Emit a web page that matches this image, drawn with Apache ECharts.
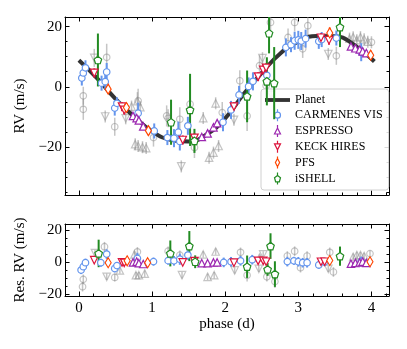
<!DOCTYPE html>
<html>
<head>
<meta charset="utf-8">
<script src="https://cdn.jsdelivr.net/npm/echarts@6/dist/echarts.min.js"></script>
<style>
html, body { margin: 0; padding: 0; background: #fff; }
#chart { width: 407px; height: 349px; }
</style>
</head>
<body>
<div id="chart"></div>
<script>
// planet model
var planetPhase = [0, 0.25, 0.5, 0.75, 1.0, 1.25, 1.5, 1.75, 2.0, 2.25, 2.5, 2.75, 3.0, 3.25, 3.5, 3.75, 4.04];
var planetRV = [8.8, 2.8, -4.0, -9.8, -14.8, -17.6, -18.2, -15.8, -10.5, -2.5, 4.6, 11.0, 15.0, 16.9, 16.8, 14.2, 8.4];

// [phase, value, err]
var carmenesTop = [[0.04,2.9,2.5],[0.06,4.6,2.5],[0.09,6.3,2.5],[0.31,1.2,2.5],[0.36,1.7,2.5],[0.38,4.9,3],
  [0.49,-7.1,2.5],[0.52,-5.5,2],[0.81,-8.8,3.5],[1.03,-14.7,2.5],[1.21,-16.9,2.5],[1.30,-17.1,3],
  [1.36,-15.1,3.5],[1.38,-18.2,3],[1.49,-13.0,3],[1.97,-11.8,3],[2.08,-7.7,3],[2.19,-2.7,3],
  [2.32,0.1,3],[2.38,1.8,3],[2.57,3.8,3],[2.83,13.1,3],[2.90,14.0,2.5],[2.95,15.3,3],
  [3.00,15.6,3],[3.04,15.2,3],[3.10,16.0,3],[3.28,15.1,2.5],[3.32,15.7,2.5],[3.52,16.2,2.5],[3.86,11.5,3]];
var carmenesRes = [[0.03,-4.8,2.5],[0.06,-2.7,2.5],[0.09,-0.2,2.5],[0.30,-0.2,2.5],[0.38,5.2,3],[0.49,-3.8,2.5],[0.52,-2.0,2],
  [0.80,2.5,3.5],[1.02,0.5,2.5],[1.22,1.1,2.5],[1.30,1.0,3],[1.38,2.0,3.5],[1.49,4.6,3],[1.98,0,3],
  [2.08,0.4,3],[2.21,1.0,3],[2.37,1.7,3],[2.85,0.5,3],[2.94,1.0,2.5],[3.00,0.4,3],[3.06,-0.2,3],
  [3.12,-0.2,3],[3.28,-1.6,2.5],[3.36,0.2,2.5],[3.86,0.6,3]];
var espressoTop = [[0.74,-9.7,1],[0.79,-10.4,1],[0.82,-11.2,1],[0.88,-13.2,1],[1.68,-16.7,1],[1.76,-15.5,1],[1.84,-13.5,1],
  [1.89,-12.1,1],[3.72,13.4,1],[3.78,12.8,1],[3.84,12.4,1],[3.88,11.8,1],[3.93,11.2,1]];
var espressoRes = [[0.74,0,1],[0.79,0.5,1],[0.82,-0.5,1],[0.88,-1,1],[1.68,-0.5,1],[1.76,-0.5,1],[1.84,0,1],
  [1.89,0,1],[3.72,-0.8,1],[3.78,-0.3,1],[3.84,0,1],[3.88,0.5,1],[3.93,-0.3,1]];
var keckTop = [[0.21,4.6,1.5],[0.59,-6.6,1.5],[0.62,-7.7,1.5],[1.42,-17.7,1.5],[1.58,-17.0,1.5],[2.12,-6.6,1.5],
  [2.45,3.4,1.5],[2.52,5.6,1.5],[2.56,6.3,1.5],[3.31,16.3,1.5],[3.42,15.5,1.5]];
var keckRes = [[0.21,1.4,1.5],[0.59,0,1.5],[0.62,-0.3,1.5],[1.42,0,1.5],[1.58,0.8,1.5],[2.12,-0.2,1.5],
  [2.45,1,1.5],[2.52,1,1.5],[2.56,0.4,1.5],[3.31,0.4,1.5],[3.36,0.4,1.5]];
var pfsTop = [[0.40,-0.8,1.5],[0.65,-6.9,1.5],[0.95,-14.6,1.5],[3.43,17.9,1.8],[3.99,10.5,1.5]];
var pfsRes = [[0.40,-0.2,1.5],[0.66,1,1.5],[0.94,-0.2,1.5],[3.43,1.2,1.8],[3.98,0.4,1.5]];
var ishellTop = [[0.26,8.9,8.8],[1.26,-11.8,7.5],[1.52,-7.7,12],[1.58,-18,4],[2.30,-3.2,8.6],[2.57,1.8,8],
  [2.60,17.8,6.7],[2.67,1.2,12],[3.57,19.8,6.6]];
var ishellRes = [[0.27,5.6,8.6],[1.25,5.6,8.1],[1.51,10.2,9.4],[1.59,0.4,4],[2.30,-2.7,7],[2.58,-4.4,4],
  [2.62,10.2,8],[2.68,-7.3,8],[3.57,3.9,6]];

// unbinned points in grey
var grayCircTop = [[0.06,-3,3],[0.06,-7.5,3.5],[0.38,9.8,4.5],[0.49,-13.3,3],[0.81,-4.7,4],[1.02,-16.9,3],[1.20,-9.7,3.5],
  [1.22,-10.5,3],[1.38,-10.8,4],[1.52,-5.8,4],[1.58,-20.2,3.5],[1.96,-8.6,3.5],[2.20,2.0,3.5],[2.30,-9.7,5],
  [2.47,7.0,3.5],[2.56,0.3,4],[2.62,21.4,4],[2.86,16.4,3],[2.95,21.4,3],[3.06,12.6,3],[3.13,20.3,3.5],
  [3.52,10.3,3],[4.00,14.8,2]];
var grayUpTop = [[0.72,-6.6,2],[0.80,-4.8,3],[0.84,-6.8,2],[0.77,-19.1,2],[0.81,-19.7,2],[0.87,-20.1,2],[0.92,-20.4,2],
  [1.70,-10.4,2],[1.87,-5.5,2],[1.78,-23.6,2],[1.84,-21.9,2],[1.91,-19.7,2],[3.70,16,2],[3.75,16.5,2],
  [3.80,15.5,2],[3.85,16.5,2],[3.90,15.8,2],[3.95,15,2]];
var grayDownTop = [[0.21,9.6,3],[0.36,-9.9,2],[0.64,-10.5,2],[1.40,-26.5,2],[2.12,-11,2],[2.51,9.5,2],[2.63,-2.7,2],[3.41,10.9,2]];
var grayCircRes = [[0.05,-15.2,3],[0.06,-10.6,3],[0.35,9.8,3],[0.49,-9.4,2.5],[0.80,6.6,3],[1.22,7.0,3],[1.38,4.5,3],
  [2.21,6.3,3],[2.30,-8.0,4],[2.57,-9.0,3],[2.68,-12.0,4],[2.85,4.0,3],[2.95,7.0,3],[3.03,-3.3,3],
  [3.12,4.0,3],[3.43,6.3,3],[3.48,-6.0,3],[3.98,5.5,2]];
var grayUpRes = [[0.56,-5,2],[0.76,5,2],[0.78,-8,2],[0.82,-8,2],[0.90,-7,2],[1.70,5,2],[1.87,6.8,2],[1.76,-9,2],
  [1.85,-8,2],[2.47,3,2],[3.75,3.5,2],[3.80,4.6,2],[3.85,4.6,2],[3.90,4,2]];
var grayDownRes = [[0.22,5.8,2],[0.38,-9,2],[1.41,-8,2],[2.13,-5,2],[2.46,-4,2],[2.52,5,2],[3.41,-4,2]];

var FONT = 'Liberation Serif';
var GRAY = 'rgba(140,140,140,0.5)';
var PENT = 'path://M0,-10 L9.51,-3.09 L5.88,8.09 L-5.88,8.09 L-9.51,-3.09 Z';

function minus(v) { return v < 0 ? '\u2212' + (-v) : '' + v; }

function bars(data, xi, yi, color, width, z) {
    return {
        type: 'custom', xAxisIndex: xi, yAxisIndex: yi, data: data, z: z, clip: true, silent: true,
        renderItem: function (params, api) {
            var x = api.value(0), y = api.value(1), e = api.value(2);
            var a = api.coord([x, y - e]), b = api.coord([x, y + e]);
            return { type: 'line', shape: { x1: a[0], y1: a[1], x2: b[0], y2: b[1] },
                     style: { stroke: color, lineWidth: width } };
        }
    };
}
function marks(name, data, xi, yi, symbol, size, fill, edge, rotate, z) {
    return {
        name: name, type: 'scatter', xAxisIndex: xi, yAxisIndex: yi, data: data, z: z, clip: true,
        symbol: symbol, symbolSize: size, symbolRotate: rotate || 0, silent: true,
        itemStyle: { color: fill, borderColor: edge, borderWidth: 1.2, opacity: 1 }
    };
}

var instruments = [
    { name: 'CARMENES VIS', top: carmenesTop, res: carmenesRes, color: '#6495ED', symbol: 'circle', size: 6.5, rot: 0,
      icon: 'path://M5,0 L5,4 M5,12 L5,16 M5,4 A4,4 0 1 1 5,12 A4,4 0 1 1 5,4 Z' },
    { name: 'ESPRESSO', top: espressoTop, res: espressoRes, color: '#9C27B0', symbol: 'triangle', size: 7.5, rot: 0,
      icon: 'path://M5,0 L5,4 M5,12 L5,16 M5,4 L9,12 L1,12 Z' },
    { name: 'KECK HIRES', top: keckTop, res: keckRes, color: '#DC143C', symbol: 'triangle', size: 7.5, rot: 180,
      icon: 'path://M5,0 L5,4 M5,12 L5,16 M1,4 L9,4 L5,12 Z' },
    { name: 'PFS', top: pfsTop, res: pfsRes, color: '#FF4500', symbol: 'diamond', size: [6, 10], rot: 0,
      icon: 'path://M5,0 L5,2.5 M5,13.5 L5,16 M5,2.5 L7.8,8 L5,13.5 L2.2,8 Z' },
    { name: 'iSHELL', top: ishellTop, res: ishellRes, color: '#228B22', symbol: PENT, size: 7.5, rot: 0,
      icon: 'path://M5,0 L5,4 M5,12.5 L5,16 M5,4 L9,7 L7.5,12.5 L2.5,12.5 L1,7 Z' }
];

var series = [];
// grey points first (bottom of the stack)
[[grayCircTop, grayCircRes, 'circle', 6.5, 0], [grayUpTop, grayUpRes, 'triangle', 7.5, 0], [grayDownTop, grayDownRes, 'triangle', 7.5, 180]]
    .forEach(function (g) {
        series.push(bars(g[0], 0, 0, GRAY, 1.5, 1));
        series.push(marks('grey', g[0], 0, 0, g[2], g[3], 'rgba(0,0,0,0)', GRAY, g[4], 2));
        series.push(bars(g[1], 2, 2, GRAY, 1.5, 1));
        series.push(marks('grey', g[1], 2, 2, g[2], g[3], 'rgba(0,0,0,0)', GRAY, g[4], 2));
    });

series.push({
    name: 'Planet', type: 'line', xAxisIndex: 0, yAxisIndex: 0, z: 3, smooth: true, symbol: 'none', silent: true,
    data: planetPhase.map(function (p, i) { return [p, planetRV[i]]; }),
    lineStyle: { color: '#333', width: 4 }, itemStyle: { color: '#333' }
});

instruments.forEach(function (s) {
    series.push(marks(s.name, s.top, 0, 0, s.symbol, s.size, '#fff', s.color, s.rot, 5));
    series.push(bars(s.top, 0, 0, s.color, 2, 4));
    series.push(marks(s.name, s.res, 2, 2, s.symbol, s.size, '#fff', s.color, s.rot, 5));
    series.push(bars(s.res, 2, 2, s.color, 2, 4));
});

function xAx(grid, pos, labels) {
    return {
        type: 'value', gridIndex: grid, position: pos, min: -0.19, max: 4.24, splitNumber: 4,
        splitLine: { show: false },
        axisLine: { show: true, onZero: false, lineStyle: { color: '#000', width: 1 } },
        axisTick: { show: true, inside: true, length: 4.5, lineStyle: { color: '#000' } },
        minorTick: { show: true, splitNumber: 5, length: 2.5, lineStyle: { color: '#000' } },
        axisLabel: { show: labels, margin: 5, color: '#000', fontFamily: FONT, fontSize: 15,
                     showMinLabel: false, showMaxLabel: false, formatter: minus },
        name: labels ? 'phase (d)' : '', nameLocation: 'middle', nameGap: 21,
        nameTextStyle: { fontFamily: FONT, fontSize: 15, color: '#000' }
    };
}
function yAx(grid, pos, min, max, split, name) {
    return {
        type: 'value', gridIndex: grid, position: pos, min: min, max: max, splitNumber: split,
        splitLine: { show: false },
        axisLine: { show: true, onZero: false, lineStyle: { color: '#000', width: 1 } },
        axisTick: { show: true, inside: true, length: 4.5, lineStyle: { color: '#000' } },
        minorTick: { show: true, splitNumber: 4, length: 2.5, lineStyle: { color: '#000' } },
        axisLabel: { show: !!name, margin: 3, color: '#000', fontFamily: FONT, fontSize: 15,
                     showMinLabel: false, showMaxLabel: false, formatter: minus },
        name: name || '', nameLocation: 'middle', nameGap: 33, nameRotate: 90,
        nameTextStyle: { fontFamily: FONT, fontSize: 15, color: '#000' }
    };
}

var chart = echarts.init(document.getElementById('chart'));
chart.setOption({
    animation: false,
    backgroundColor: '#fff',
    grid: [
        { left: 65, top: 17, width: 324, height: 178 },
        { left: 65, top: 224, width: 324, height: 72 }
    ],
    xAxis: [xAx(0, 'bottom', false), xAx(0, 'top', false), xAx(1, 'bottom', true), xAx(1, 'top', false)],
    yAxis: [yAx(0, 'left', -36, 23.2, 3, 'RV (m/s)'), yAx(0, 'right', -36, 23.2, 3, ''),
            yAx(1, 'left', -21, 24, 2, 'Res. RV (m/s)'), yAx(1, 'right', -21, 24, 2, '')],
    legend: {
        left: 261, top: 89, orient: 'vertical', itemWidth: 25, itemHeight: 12, itemGap: 2.6,
        padding: [5, 6, 5, 4], backgroundColor: 'rgba(255,255,255,0.85)', borderColor: '#d0d0d0',
        borderWidth: 1, borderRadius: 3, selectedMode: false,
        itemStyle: { borderWidth: 1.2 },
        textStyle: { fontFamily: FONT, fontSize: 12, color: '#000' },
        data: [{ name: 'Planet', icon: 'path://M0,0 L26,0 L26,4 L0,4 Z', itemStyle: { color: '#333', borderWidth: 0 } }].concat(
            instruments.map(function (s) { return { name: s.name, icon: s.icon }; }))
    },
    series: series
});
</script>
</body>
</html>
